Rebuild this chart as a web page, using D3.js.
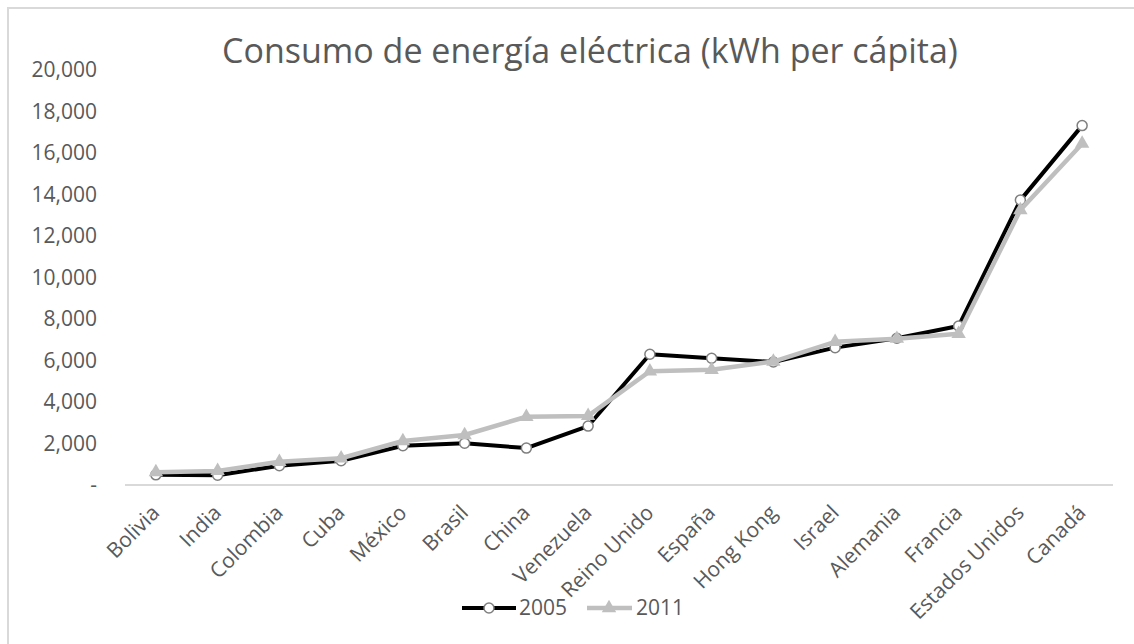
<!DOCTYPE html>
<html>
<head>
<meta charset="utf-8">
<script src="https://cdn.jsdelivr.net/npm/d3@7"></script>
<style>
  body { margin: 0; background: #fff; }
  svg { display: block; font-family: "Open Sans", sans-serif; }
</style>
</head>
<body>
<div id="chart"></div>
<script>
/* Consumo de energía eléctrica - line chart */

const countries = ["Bolivia", "India", "Colombia", "Cuba", "México", "Brasil", "China", "Venezuela",
    "Reino Unido", "España", "Hong Kong", "Israel", "Alemania", "Francia", "Estados Unidos", "Canadá"];

const values2005 = [490, 470, 930, 1170, 1890, 2010, 1780, 2840, 6300, 6110, 5930, 6620, 7070, 7660, 13730, 17320];
const values2011 = [620, 680, 1120, 1290, 2120, 2410, 3290, 3330, 5480, 5550, 5950, 6900, 7050, 7290, 13250, 16450];

const yTicks = [0, 2000, 4000, 6000, 8000, 10000, 12000, 14000, 16000, 18000, 20000];

const W = 1134, H = 644;
const svg = d3.select("#chart").append("svg")
    .attr("width", W)
    .attr("height", H);

// chart frame (only top and left visible in the crop)
svg.append("path")
    .attr("d", `M8,${H + 5} L8,8 L${W + 5},8`)
    .attr("fill", "none")
    .attr("stroke", "#d9d9d9")
    .attr("stroke-width", 2);

const x = d3.scaleBand()
    .domain(countries)
    .range([125, 1113]);

const y = d3.scaleLinear()
    .domain([0, 20000])
    .range([485, 70]);

// title
svg.append("text")
    .attr("x", 590)
    .attr("y", 63)
    .attr("text-anchor", "middle")
    .attr("font-size", "34px")
    .attr("fill", "#595959")
    .text("Consumo de energía eléctrica (kWh per cápita)");

// y tick labels
svg.selectAll(".ytick")
    .data(yTicks)
    .enter()
    .append("text")
    .attr("class", "ytick")
    .attr("x", 97)
    .attr("y", d => y(d))
    .attr("dy", "0.35em")
    .attr("text-anchor", "end")
    .attr("font-size", "21px")
    .attr("fill", "#595959")
    .text(d => d === 0 ? "-" : d3.format(",")(d));

// baseline
svg.append("line")
    .attr("x1", 125)
    .attr("x2", 1113)
    .attr("y1", y(0))
    .attr("y2", y(0))
    .attr("stroke", "#d9d9d9")
    .attr("stroke-width", 2);

// x labels
const cx = d => x(d) + x.bandwidth() / 2;
svg.selectAll(".xtick")
    .data(countries)
    .enter()
    .append("text")
    .attr("class", "xtick")
    .attr("transform", d => `translate(${cx(d) + 5},${514}) rotate(-45)`)
    .attr("text-anchor", "end")
    .attr("font-size", "21px")
    .attr("fill", "#595959")
    .text(d => d);

const line = d3.line()
    .x((d, i) => cx(countries[i]))
    .y(d => y(d));

// 2005 series
svg.append("path")
    .datum(values2005)
    .attr("fill", "none")
    .attr("stroke", "#000")
    .attr("stroke-width", 4)
    .attr("stroke-linejoin", "round")
    .attr("d", line);

svg.selectAll(".m2005")
    .data(values2005)
    .enter()
    .append("circle")
    .attr("cx", (d, i) => cx(countries[i]))
    .attr("cy", d => y(d))
    .attr("r", 5)
    .attr("fill", "#fff")
    .attr("stroke", "#7f7f7f")
    .attr("stroke-width", 1.5);

// 2011 series
svg.append("path")
    .datum(values2011)
    .attr("fill", "none")
    .attr("stroke", "#bfbfbf")
    .attr("stroke-width", 4.5)
    .attr("stroke-linejoin", "round")
    .attr("d", line);

const tri = d3.symbol().type(d3.symbolTriangle).size(90);
svg.selectAll(".m2011")
    .data(values2011)
    .enter()
    .append("path")
    .attr("transform", (d, i) => `translate(${cx(countries[i])},${y(d)})`)
    .attr("d", tri)
    .attr("fill", "#bfbfbf");

// legend
const lg = svg.append("g").attr("transform", "translate(0,608)");
lg.append("line").attr("x1", 462).attr("x2", 516).attr("y1", 0).attr("y2", 0)
    .attr("stroke", "#000").attr("stroke-width", 4);
lg.append("circle").attr("cx", 489).attr("cy", 0).attr("r", 5)
    .attr("fill", "#fff").attr("stroke", "#7f7f7f").attr("stroke-width", 1.5);
lg.append("text").attr("x", 519).attr("y", 0).attr("dy", "0.35em")
    .attr("font-size", "21px").attr("fill", "#595959").text("2005");

lg.append("line").attr("x1", 587).attr("x2", 632).attr("y1", 0).attr("y2", 0)
    .attr("stroke", "#bfbfbf").attr("stroke-width", 4.5);
lg.append("path").attr("transform", "translate(609,0)").attr("d", tri).attr("fill", "#bfbfbf");
lg.append("text").attr("x", 636).attr("y", 0).attr("dy", "0.35em")
    .attr("font-size", "21px").attr("fill", "#595959").text("2011");
</script>
</body>
</html>
